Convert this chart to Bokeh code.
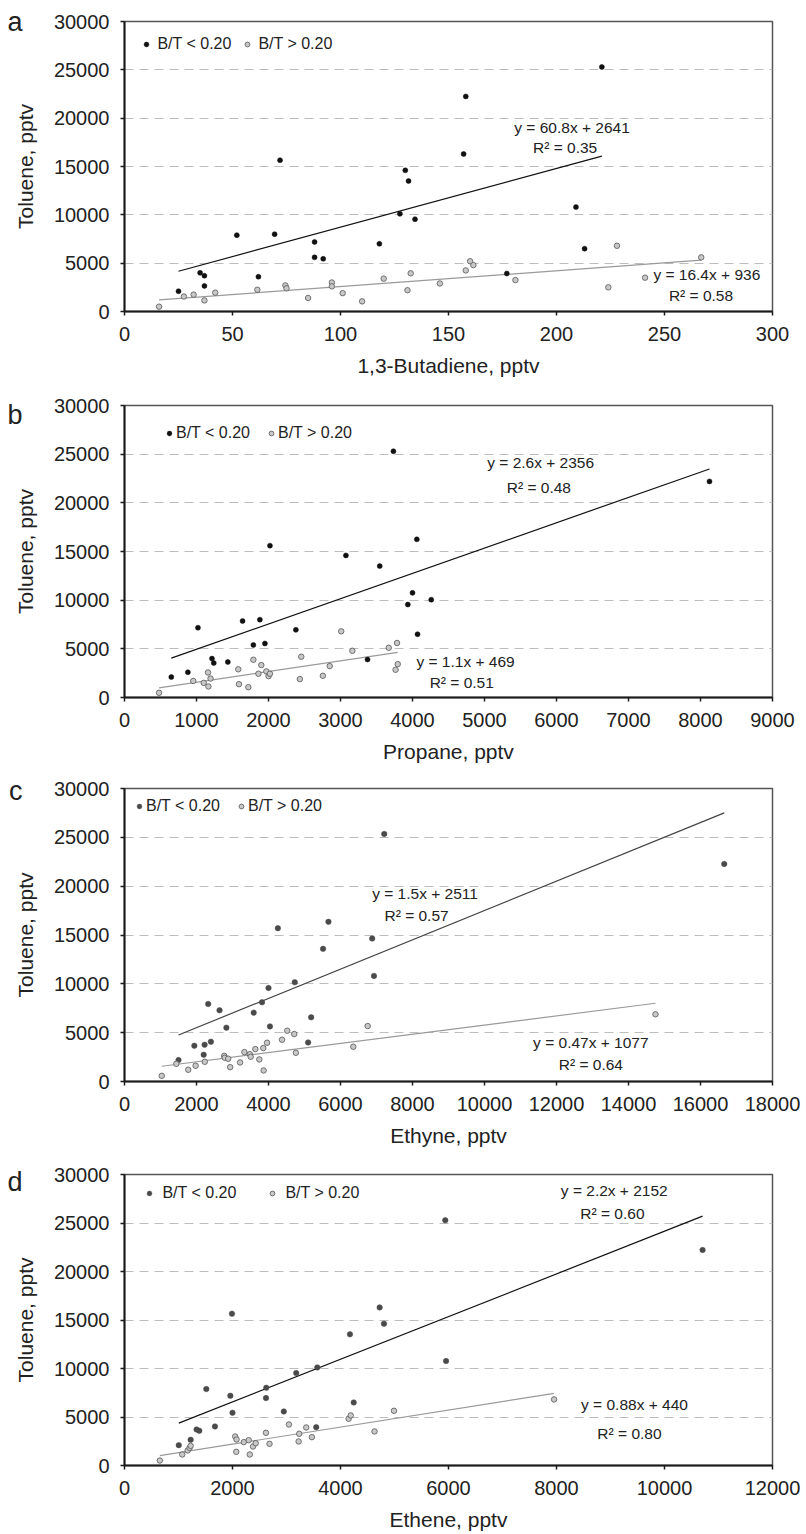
from bokeh.plotting import figure
from bokeh.models import (Range1d, FixedTicker, Label, Legend, LegendItem,
                          BasicTickFormatter, LinearAxis)
from bokeh.layouts import column
from bokeh.embed import file_html
from bokeh.resources import INLINE

FONT = "Liberation Sans"

# ---------------- data ----------------
y_ticks = [0, 5000, 10000, 15000, 20000, 25000, 30000]

a_x_ticks = [0, 50, 100, 150, 200, 250, 300]
a_black_x = [25, 35, 37, 37, 52, 62, 69.5, 72, 88, 88, 92, 118, 127.5, 130, 131.5, 134.5, 157, 158, 177, 209, 213, 221]
a_black_y = [2100, 4000, 3700, 2650, 7900, 3600, 8000, 15650, 7200, 5600, 5450, 7000, 10100, 14600, 13500, 9550, 16300, 22250, 3930, 10800, 6500, 25300]
a_gray_x = [16, 27.5, 32, 37, 42, 61.5, 74.5, 75, 85, 96, 96, 101, 110, 120, 131, 132.5, 146, 158, 160, 161.5, 181, 224, 228, 241, 267]
a_gray_y = [500, 1550, 1750, 1150, 1950, 2250, 2700, 2400, 1400, 3000, 2600, 1900, 1050, 3400, 2200, 3950, 2900, 4250, 5200, 4800, 3250, 2500, 6800, 3500, 5600]
a_fit_black = (60.8, 2641)
a_fit_gray = (16.4, 936)

b_x_ticks = [0, 1000, 2000, 3000, 4000, 5000, 6000, 7000, 8000, 9000]
b_black_x = [650, 880, 1020, 1215, 1240, 1435, 1640, 1790, 1880, 1950, 2020, 2380, 3075, 3375, 3545, 3735, 3935, 4000, 4060, 4070, 4260, 8125]
b_black_y = [2100, 2600, 7170, 4000, 3550, 3650, 7850, 5400, 8000, 5550, 15600, 6950, 14600, 3900, 13500, 25300, 9550, 10750, 16250, 6500, 10050, 22200]
b_gray_x = [480, 955, 1100, 1160, 1165, 1195, 1580, 1590, 1720, 1790, 1860, 1900, 1970, 2000, 2020, 2435, 2455, 2755, 2850, 3010, 3165, 3670, 3765, 3785, 3795]
b_gray_y = [480, 1700, 1500, 2570, 1130, 1950, 2900, 1370, 1060, 3880, 2440, 3330, 2680, 2200, 2440, 1890, 4190, 2230, 3230, 6800, 4800, 5110, 2850, 5600, 3430]
b_fit_black = (2.6, 2356)
b_fit_gray = (1.1, 469)

c_x_ticks = [0, 2000, 4000, 6000, 8000, 10000, 12000, 14000, 16000, 18000]
c_black_x = [1500, 1940, 2200, 2225, 2325, 2400, 2640, 2830, 3590, 3820, 4000, 4040, 4260, 4730, 5100, 5185, 5515, 5665, 6880, 6930, 7215, 16660]
c_black_y = [2190, 3660, 2740, 3760, 7940, 4070, 7290, 5510, 7050, 8110, 9580, 5640, 15700, 10160, 4000, 6570, 13580, 16350, 14640, 10810, 25350, 22270]
c_gray_x = [1035, 1440, 1770, 1975, 2230, 2770, 2785, 2880, 2935, 3210, 3330, 3480, 3505, 3635, 3745, 3855, 3865, 3960, 4375, 4520, 4715, 4760, 6355, 6755, 14750]
c_gray_y = [580, 1810, 1200, 1610, 2020, 2630, 2430, 2330, 1470, 1950, 3010, 2800, 2530, 3320, 2260, 3420, 1130, 3970, 4280, 5200, 4860, 2940, 3560, 5680, 6880]
c_fit_black = (1.5, 2511)
c_fit_gray = (0.47, 1077)

d_x_ticks = [0, 2000, 4000, 6000, 8000, 10000, 12000]
d_black_x = [1005, 1225, 1335, 1385, 1515, 1675, 1960, 1990, 2000, 2625, 2620, 2950, 3180, 3550, 3570, 4175, 4245, 4725, 4805, 5940, 5955, 10705]
d_black_y = [2100, 2650, 3715, 3580, 7880, 4025, 7190, 15650, 5435, 8015, 6950, 5570, 9530, 3955, 10110, 13520, 6500, 16300, 14620, 25280, 10770, 22220]
d_gray_x = [655, 1070, 1170, 1205, 1225, 2050, 2075, 2070, 2210, 2300, 2320, 2380, 2430, 2620, 2685, 3045, 3225, 3235, 3365, 3470, 4150, 4190, 4630, 4990, 7955]
d_gray_y = [515, 1135, 1550, 1820, 2030, 2990, 2680, 1410, 2410, 2610, 1135, 1960, 2300, 3370, 2235, 4230, 2475, 3270, 3920, 2925, 4815, 5160, 3510, 5640, 6810]
d_fit_black = (2.2, 2152)
d_fit_gray = (0.88, 440)

legend_labels = ["B/T < 0.20", "B/T > 0.20"]
y_title = "Toluene, pptv"


def make_panel(letter, xlabel, xmax, xticks, bx, by, gx, gy, fit_b, fit_g,
               annots, dims, leg, dark, black_line):
    width, height, mbl, mbr, mbt, mbb = dims
    p = figure(width=width, height=height, output_backend="svg",
               toolbar_location=None, min_border_left=mbl,
               min_border_right=mbr, min_border_top=mbt,
               min_border_bottom=mbb,
               x_range=Range1d(0, xmax), y_range=Range1d(0, 30000))
    p.background_fill_color = "white"
    p.border_fill_color = "white"
    p.outline_line_color = "#555555"
    p.outline_line_width = 1.5
    p.xgrid.visible = False
    p.ygrid.ticker = FixedTicker(ticks=y_ticks)
    p.ygrid.grid_line_color = "#bdbdbd"
    p.ygrid.grid_line_dash = "9 6"
    p.ygrid.grid_line_width = 1.2

    p.xaxis.ticker = FixedTicker(ticks=xticks)
    p.yaxis.ticker = FixedTicker(ticks=y_ticks)
    for ax in (p.xaxis[0], p.yaxis[0]):
        ax.formatter = BasicTickFormatter(use_scientific=False)
        ax.axis_line_color = "#1a1a1a"
        ax.axis_line_width = 2
        ax.major_tick_line_color = "#1a1a1a"
        ax.major_tick_line_width = 1.5
        ax.major_tick_in = 0
        ax.major_tick_out = 4
        ax.minor_tick_line_color = None
        ax.major_label_text_font = FONT
        ax.major_label_text_font_size = "20px"
        ax.major_label_text_color = "#222222"
        ax.axis_label_text_font = FONT
        ax.axis_label_text_font_size = "21px"
        ax.axis_label_text_font_style = "normal"
        ax.axis_label_text_color = "#222222"
    p.xaxis.axis_label = xlabel
    p.xaxis.major_label_standoff = 11
    p.xaxis.axis_label_standoff = 10
    p.yaxis.axis_label = y_title
    p.yaxis.major_label_standoff = 11
    p.yaxis.axis_label_standoff = 14

    # regression lines
    bx0, bx1 = min(bx), max(bx)
    gx0, gx1 = min(gx), max(gx)
    p.line([gx0, gx1], [fit_g[0] * gx0 + fit_g[1], fit_g[0] * gx1 + fit_g[1]],
           line_color="#9a9a9a", line_width=1.2)
    p.line([bx0, bx1], [fit_b[0] * bx0 + fit_b[1], fit_b[0] * bx1 + fit_b[1]],
           line_color=black_line, line_width=1.2)

    dark_size = 5.5 if dark != "#111111" else 5
    rb = p.scatter(bx, by, size=dark_size, fill_color=dark, line_color=dark,
                   line_width=0.5)
    rg = p.scatter(gx, gy, size=5.5, fill_color="#c8c8c8",
                   line_color="#555555", line_width=0.8)

    vx, vy, spacing, standoff = leg
    legend = Legend(items=[LegendItem(label=legend_labels[0], renderers=[rb]),
                           LegendItem(label=legend_labels[1], renderers=[rg])],
                    orientation="horizontal", location=(vx, vy),
                    padding=0, margin=0, spacing=spacing,
                    label_standoff=standoff, glyph_width=12, glyph_height=20,
                    label_height=20, background_fill_alpha=0,
                    border_line_alpha=0, label_text_font=FONT,
                    label_text_font_size="16px",
                    label_text_color="#222222")
    p.add_layout(legend)

    for (tx, ty, txt) in annots:
        p.add_layout(Label(x=tx, y=ty, text=txt, text_align="center",
                           text_baseline="middle", text_font=FONT,
                           text_font_size="15.5px", text_color="#222222"))

    # panel letter: an outer left axis carrying one labelled tick
    ltxt, ltick = letter
    lax = LinearAxis(ticker=FixedTicker(ticks=[ltick]),
                     major_label_overrides={ltick: ltxt},
                     axis_line_color=None, major_tick_line_color=None,
                     minor_tick_line_color=None, major_tick_in=0,
                     major_tick_out=0, minor_tick_in=0, minor_tick_out=0,
                     major_label_standoff=-12,
                     major_label_text_font=FONT,
                     major_label_text_font_size="27px",
                     major_label_text_color="#222222")
    p.add_layout(lax, "left")
    return p


pa = make_panel(("a", 30000), "1,3-Butadiene, pptv", 300, a_x_ticks,
                a_black_x, a_black_y, a_gray_x, a_gray_y, a_fit_black, a_fit_gray,
                [(207.2, 19034, "y = 60.8x + 2641"), (204, 17000, "R² = 0.35"),
                 (269.6, 3827, "y = 16.4x + 936"), (266.9, 1655, "R² = 0.58")],
                (806, 392, 123, 28, 21, 81), (16.4, 257, 10, 5),
                "#111111", "#111111")

pb = make_panel(("b", 29000), "Propane, pptv", 9000, b_x_ticks,
                b_black_x, b_black_y, b_gray_x, b_gray_y, b_fit_black, b_fit_gray,
                [(5780, 24132, "y = 2.6x + 2356"), (5755, 21559, "R² = 0.48"),
                 (4737, 3675, "y = 1.1x + 469"), (4684, 1544, "R² = 0.51")],
                (806, 383, 123, 32, 13, 78), (39, 254, 15, 1),
                "#111111", "#111111")

pc = make_panel(("c", 29700), "Ethyne, pptv", 18000, c_x_ticks,
                c_black_x, c_black_y, c_gray_x, c_gray_y, c_fit_black, c_fit_gray,
                [(8349, 19227, "y = 1.5x + 2511"), (8113, 17000, "R² = 0.57"),
                 (12954, 4001, "y = 0.47x + 1077"), (12954, 1713, "R² = 0.64")],
                (806, 386, 123, 33, 13, 80), (9, 265, 15, 1),
                "#4a4a4a", "#444444")

pd_ = make_panel(("d", 29250), "Ethene, pptv", 12000, d_x_ticks,
                 d_black_x, d_black_y, d_gray_x, d_gray_y, d_fit_black, d_fit_gray,
                 [(9070, 28307, "y = 2.2x + 2152"), (9036, 25975, "R² = 0.60"),
                  (9444, 6295, "y = 0.88x + 440"), (9351, 3271, "R² = 0.80")],
                 (806, 373, 124, 34, 13, 69), (19.4, 262, 30, 7),
                 "#4a4a4a", "#111111")

layout = column(pa, pb, pc, pd_, spacing=0)
open("out.html", "w").write(file_html(layout, INLINE))
